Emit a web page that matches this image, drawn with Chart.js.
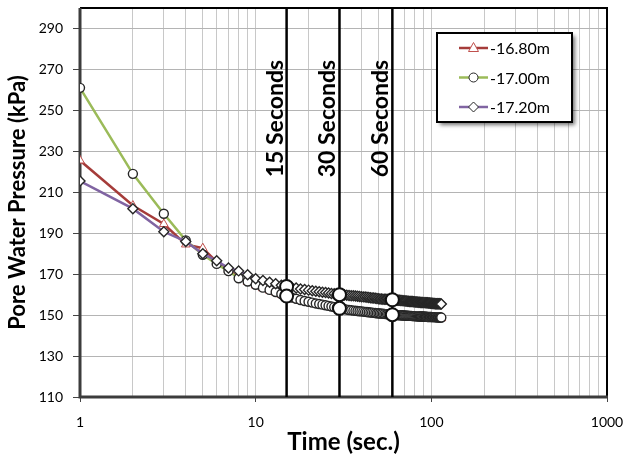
<!DOCTYPE html>
<html>
<head>
<meta charset="utf-8">
<script src="https://cdn.jsdelivr.net/npm/chart.js@4.4.0/dist/chart.umd.min.js"></script>
<style>
html, body { margin: 0; padding: 0; background: #fff; }
#wrap { width: 625px; height: 460px; }
</style>
</head>
<body>
<div id="wrap"><canvas id="myChart" width="625" height="460"></canvas></div>
<script>
// tempi di lettura (secondi)
var tempi = [
  1, 2, 3, 4, 5, 6, 7, 8, 9, 10,
  11, 12, 13, 14, 15, 16, 17, 18, 19, 20,
  21, 22, 23, 24, 25, 26, 27, 28, 29, 30,
  31, 32, 33, 34, 35, 36, 37, 38, 39, 40,
  41, 42, 43, 44, 45, 46, 47, 48, 49, 50,
  51, 52, 53, 54, 55, 56, 57, 58, 59, 60,
  61, 62, 63, 64, 65, 66, 67, 68, 69, 70,
  71, 72, 73, 74, 75, 76, 77, 78, 79, 80,
  81, 82, 83, 84, 85, 86, 87, 88, 89, 90,
  91, 92, 93, 94, 95, 96, 97, 98, 99, 100,
  101, 102, 103, 104, 105, 106, 107, 108, 109, 110,
  111, 112, 113, 114
];

// pressione interstiziale (kPa) alla profondita' -16.80m
var p1680 = [
  225.5, 203.5, 194.5, 184.5, 182.7, 176, 172, 168.5, 166.2, 164.5,
  163.1, 162, 161, 160, 159, 158.3, 157.7, 157.1, 156.6, 156.2,
  155.8, 155.4, 155.1, 154.8, 154.5, 154.2, 153.9, 153.6, 153.3, 153,
  152.8, 152.6, 152.4, 152.2, 152.1, 151.9, 151.8, 151.7, 151.6, 151.5,
  151.4, 151.3, 151.2, 151.1, 151, 150.9, 150.8, 150.7, 150.6, 150.6,
  150.5, 150.4, 150.4, 150.3, 150.2, 150.2, 150.1, 150.1, 150, 149.9,
  149.9, 149.8, 149.8, 149.7, 149.7, 149.6, 149.6, 149.6, 149.5, 149.5,
  149.5, 149.4, 149.4, 149.4, 149.3, 149.3, 149.3, 149.2, 149.2, 149.2,
  149.2, 149.1, 149.1, 149.1, 149.1, 149, 149, 149, 149, 149,
  148.9, 148.9, 148.9, 148.9, 148.8, 148.8, 148.8, 148.8, 148.8, 148.8,
  148.7, 148.7, 148.7, 148.7, 148.7, 148.7, 148.6, 148.6, 148.6, 148.6,
  148.6, 148.6, 148.5, 148.5
];

// pressione interstiziale (kPa) alla profondita' -17.00m
var p1700 = [
  261, 219, 199.5, 186.5, 179.5, 175, 171.5, 168, 166.4, 164.8,
  163.4, 162.3, 161.3, 160.3, 159.3, 158.6, 158, 157.4, 156.9, 156.5,
  156.1, 155.7, 155.4, 155.1, 154.8, 154.5, 154.2, 153.9, 153.6, 153.3,
  153.1, 152.9, 152.7, 152.5, 152.4, 152.2, 152.1, 152, 151.9, 151.8,
  151.7, 151.6, 151.5, 151.4, 151.3, 151.2, 151.1, 151, 150.9, 150.9,
  150.8, 150.7, 150.7, 150.6, 150.5, 150.5, 150.4, 150.4, 150.3, 150.2,
  150.2, 150.1, 150.1, 150, 150, 149.9, 149.9, 149.9, 149.8, 149.8,
  149.8, 149.7, 149.7, 149.7, 149.6, 149.6, 149.6, 149.5, 149.5, 149.5,
  149.5, 149.4, 149.4, 149.4, 149.4, 149.3, 149.3, 149.3, 149.3, 149.3,
  149.2, 149.2, 149.2, 149.2, 149.1, 149.1, 149.1, 149.1, 149.1, 149.1,
  149, 149, 149, 149, 149, 149, 148.9, 148.9, 148.9, 148.9,
  148.9, 148.9, 148.8, 148.8
];

// pressione interstiziale (kPa) alla profondita' -17.20m
var p1720 = [
  215.5, 202, 190.7, 186, 180, 176.5, 173, 171.6, 169.7, 167.8,
  166.9, 166.1, 165.3, 164.6, 164, 163.6, 163.2, 162.8, 162.5, 162.2,
  161.9, 161.6, 161.4, 161.2, 161, 160.8, 160.6, 160.4, 160.2, 160,
  159.9, 159.8, 159.7, 159.6, 159.5, 159.4, 159.3, 159.2, 159.1, 159,
  158.9, 158.8, 158.7, 158.6, 158.5, 158.4, 158.3, 158.2, 158.1, 158,
  157.9, 157.9, 157.8, 157.8, 157.7, 157.7, 157.6, 157.6, 157.5, 157.5,
  157.4, 157.4, 157.3, 157.3, 157.2, 157.2, 157.1, 157.1, 157, 157,
  156.9, 156.9, 156.8, 156.8, 156.7, 156.7, 156.6, 156.6, 156.5, 156.5,
  156.4, 156.4, 156.4, 156.3, 156.3, 156.3, 156.2, 156.2, 156.2, 156.1,
  156.1, 156.1, 156, 156, 156, 155.9, 155.9, 155.9, 155.8, 155.8,
  155.8, 155.7, 155.7, 155.7, 155.6, 155.6, 155.6, 155.6, 155.5, 155.5,
  155.5, 155.5, 155.4, 155.4
];

var serie_nomi = ['-16.80m', '-17.00m', '-17.20m'];

// assi
var y_min = 110;
var y_max = 300;
var etichette_y = [110, 130, 150, 170, 190, 210, 230, 250, 270, 290];
var etichette_x = [1, 10, 100, 1000];
var griglia_x = [
  1, 2, 3, 4, 5, 6, 7, 8, 9,
  10, 20, 30, 40, 50, 60, 70, 80, 90,
  100, 200, 300, 400, 500, 600, 700, 800, 900, 1000
];

// istanti evidenziati con linea verticale
var eventi = [15, 30, 60];
var eventi_testo = ['15 Seconds', '30 Seconds', '60 Seconds'];
var eventi_y_centro = 246;

function punti(valori) {
  var out = [];
  for (var i = 0; i < tempi.length; i++) {
    out.push({ x: tempi[i], y: valori[i] });
  }
  return out;
}

// cerchi grandi sulle linee verticali
var evidenziati = [];
for (var k = 0; k < eventi.length; k++) {
  var idx = tempi.indexOf(eventi[k]);
  evidenziati.push({ x: eventi[k], y: p1720[idx] });
  evidenziati.push({ x: eventi[k], y: p1700[idx] });
}

var datasets = [
  {
    label: 'evidenziati',
    data: evidenziati,
    showLine: false,
    pointStyle: 'circle',
    pointRadius: 6.5,
    pointBorderWidth: 2,
    pointBackgroundColor: '#fff',
    pointBorderColor: '#111',
    order: 0
  }
];

for (var k = 0; k < eventi.length; k++) {
  datasets.push({
    label: eventi_testo[k],
    data: [{ x: eventi[k], y: y_min }, { x: eventi[k], y: y_max }],
    borderColor: '#000',
    borderWidth: 2.5,
    pointRadius: 0,
    order: 1
  });
}

datasets.push({
  label: serie_nomi[2],
  data: punti(p1720),
  borderColor: '#8064a2',
  borderWidth: 2.5,
  pointStyle: 'rectRot',
  pointRadius: 5,
  pointBorderWidth: 1.4,
  pointBackgroundColor: '#fff',
  pointBorderColor: '#262626',
  order: 2
});
datasets.push({
  label: serie_nomi[1],
  data: punti(p1700),
  borderColor: '#9bbb59',
  borderWidth: 2.5,
  pointStyle: 'circle',
  pointRadius: 4.5,
  pointBorderWidth: 1.4,
  pointBackgroundColor: '#fff',
  pointBorderColor: '#262626',
  order: 3
});
datasets.push({
  label: serie_nomi[0],
  data: punti(p1680),
  borderColor: '#a53c3a',
  borderWidth: 2.5,
  pointStyle: 'triangle',
  pointRadius: 5,
  pointBorderWidth: 1,
  pointBackgroundColor: '#fff',
  pointBorderColor: '#c0504d',
  order: 4
});

function marcatore(ctx, stile, cx, cy) {
  ctx.beginPath();
  if (stile === 'circle') {
    ctx.arc(cx, cy, 4.5, 0, Math.PI * 2);
  } else if (stile === 'triangle') {
    ctx.moveTo(cx, cy - 5.5);
    ctx.lineTo(cx + 5, cy + 3.5);
    ctx.lineTo(cx - 5, cy + 3.5);
    ctx.closePath();
  } else {
    ctx.moveTo(cx, cy - 5);
    ctx.lineTo(cx + 5, cy);
    ctx.lineTo(cx, cy + 5);
    ctx.lineTo(cx - 5, cy);
    ctx.closePath();
  }
  ctx.fillStyle = '#fff';
  ctx.fill();
  ctx.stroke();
}

// bordo dell'area del grafico
var bordo = {
  id: 'bordo',
  beforeDatasetsDraw: function (chart) {
    var a = chart.chartArea;
    var ctx = chart.ctx;
    ctx.save();
    ctx.strokeStyle = '#000';
    ctx.lineWidth = 2;
    ctx.beginPath();
    ctx.moveTo(a.left, a.top);
    ctx.lineTo(a.right, a.top);
    ctx.lineTo(a.right, a.bottom);
    ctx.stroke();
    ctx.strokeStyle = '#3c3c3c';
    ctx.lineWidth = 3;
    ctx.beginPath();
    ctx.moveTo(a.left, a.top);
    ctx.lineTo(a.left, a.bottom);
    ctx.lineTo(a.right + 1, a.bottom);
    ctx.stroke();
    ctx.restore();
  }
};

// scritte verticali accanto alle linee + legenda
var annotazioni = {
  id: 'annotazioni',
  afterDatasetsDraw: function (chart) {
    var ctx = chart.ctx;
    var sx = chart.scales.x;
    var sy = chart.scales.y;
    var a = chart.chartArea;

    ctx.save();
    ctx.fillStyle = '#000';
    ctx.font = 'bold 23px Lato';
    ctx.textAlign = 'center';
    ctx.textBaseline = 'alphabetic';
    for (var i = 0; i < eventi.length; i++) {
      var px = sx.getPixelForValue(eventi[i]);
      ctx.save();
      ctx.translate(px - 4, sy.getPixelForValue(eventi_y_centro));
      ctx.rotate(-Math.PI / 2);
      ctx.fillText(eventi_testo[i], 0, 0);
      ctx.restore();
    }
    ctx.restore();

    // legenda
    var bx = a.right - 170, by = a.top + 25, bw = 135, bh = 89;
    ctx.save();
    ctx.shadowColor = 'rgba(0,0,0,0.55)';
    ctx.shadowBlur = 4;
    ctx.shadowOffsetX = 3;
    ctx.shadowOffsetY = 3;
    ctx.fillStyle = '#fff';
    ctx.fillRect(bx, by, bw, bh);
    ctx.restore();
    ctx.save();
    ctx.strokeStyle = '#000';
    ctx.lineWidth = 2;
    ctx.strokeRect(bx, by, bw, bh);

    var voci = chart.data.datasets.filter(function (d) {
      return serie_nomi.indexOf(d.label) >= 0;
    }).sort(function (p, q) {
      return serie_nomi.indexOf(p.label) - serie_nomi.indexOf(q.label);
    });
    for (var j = 0; j < voci.length; j++) {
      var ry = by + 15 + j * 29.5;
      ctx.strokeStyle = voci[j].borderColor;
      ctx.lineWidth = 2.5;
      ctx.beginPath();
      ctx.moveTo(bx + 22, ry);
      ctx.lineTo(bx + 51, ry);
      ctx.stroke();
      ctx.strokeStyle = voci[j].pointBorderColor;
      ctx.lineWidth = 1;
      marcatore(ctx, voci[j].pointStyle, bx + 36.5, ry);
      ctx.fillStyle = '#000';
      ctx.font = '16px Lato';
      ctx.textAlign = 'left';
      ctx.textBaseline = 'middle';
      ctx.fillText(voci[j].label, bx + 53, ry + 1);
    }
    ctx.restore();
  }
};

var ctx = document.getElementById('myChart').getContext('2d');

var myChart = new Chart(ctx, {
  type: 'line',
  data: { datasets: datasets },
  plugins: [bordo, annotazioni],
  options: {
    responsive: false,
    animation: false,
    events: [],
    layout: { autoPadding: false, padding: { top: 8, right: 18, left: 0, bottom: 0 } },
    elements: { line: { tension: 0 } },
    plugins: {
      legend: { display: false },
      tooltip: { enabled: false }
    },
    scales: {
      x: {
        type: 'logarithmic',
        min: 1,
        max: 1000,
        afterBuildTicks: function (scale) {
          scale.ticks = griglia_x.map(function (v) { return { value: v }; });
        },
        afterFit: function (scale) {
          scale.height = 63;
          scale.paddingLeft = 0;
          scale.paddingRight = 0;
        },
        ticks: {
          autoSkip: false,
          maxRotation: 0,
          padding: 12,
          color: '#000',
          font: { family: 'Lato', size: 14 },
          callback: function (v) {
            return etichette_x.indexOf(v) >= 0 ? String(v) : '';
          }
        },
        grid: {
          color: '#c8c8c8',
          lineWidth: 1,
          tickLength: 5,
          tickColor: function (c) {
            return c.tick && etichette_x.indexOf(c.tick.value) >= 0 ? '#444' : 'rgba(0,0,0,0)';
          }
        },
        border: { display: false },
        title: {
          display: true,
          text: 'Time (sec.)',
          color: '#000',
          font: { family: 'Lato', size: 24, weight: 'bold' },
          padding: { top: 0, bottom: 3 }
        }
      },
      y: {
        min: y_min,
        max: y_max,
        afterBuildTicks: function (scale) {
          scale.ticks = etichette_y.map(function (v) { return { value: v }; });
        },
        afterFit: function (scale) {
          scale.width = 80;
          scale.paddingTop = 0;
          scale.paddingBottom = 0;
        },
        ticks: {
          padding: 10,
          color: '#000',
          font: { family: 'Lato', size: 14 }
        },
        grid: {
          color: '#b4b4b4',
          lineWidth: 1,
          tickLength: 7,
          tickColor: '#444'
        },
        border: { display: false },
        title: {
          display: true,
          text: 'Pore Water Pressure (kPa)',
          color: '#000',
          font: { family: 'Lato', size: 22, weight: 'bold' },
          padding: { top: 5, bottom: 0 }
        }
      }
    }
  }
});
</script>
</body>
</html>
